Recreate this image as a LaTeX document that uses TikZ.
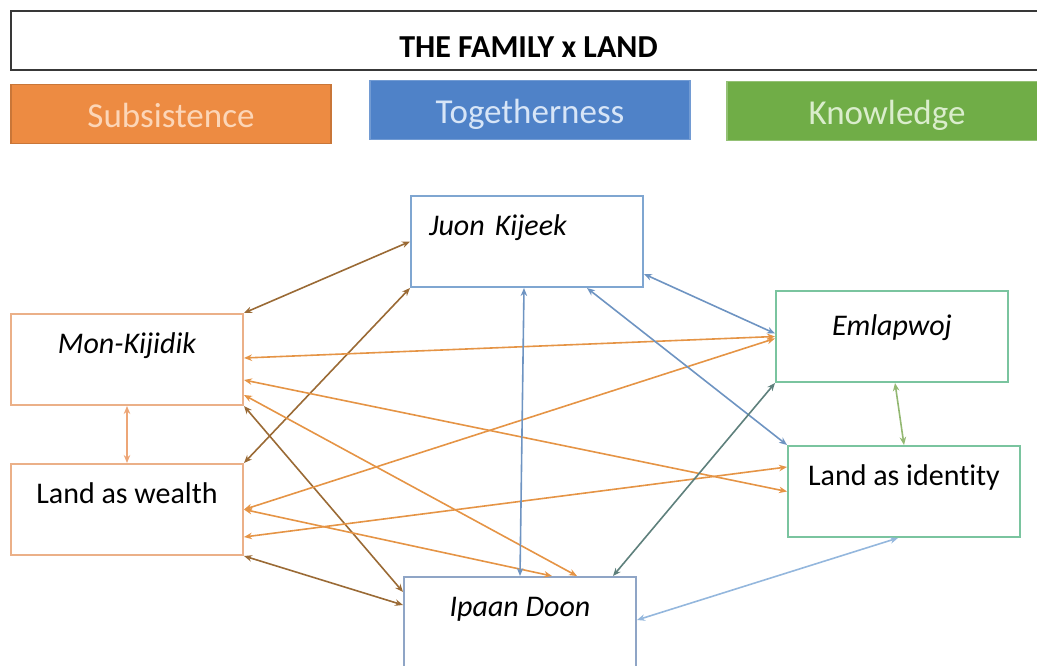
\documentclass[tikz,border=0pt]{standalone}
\usepackage{fontspec}
\setmainfont[Ligatures=NoCommon]{Carlito}
\usetikzlibrary{arrows.meta, calc}

\definecolor{subsfill}{HTML}{ED8B42}
\definecolor{substext}{HTML}{FCD6B8}
\definecolor{togfill}{HTML}{4F82C8}
\definecolor{togtext}{HTML}{D7E5F7}
\definecolor{knowfill}{HTML}{70AD47}
\definecolor{knowtext}{HTML}{DAEDCC}
\definecolor{juonline}{HTML}{7FA6D1}
\definecolor{monline}{HTML}{EBB088}
\definecolor{emlaline}{HTML}{7AC49F}
\definecolor{ipaanline}{HTML}{8FA5C6}
\definecolor{brownlink}{HTML}{9A6A35}
\definecolor{orangelink}{HTML}{E59445}
\definecolor{bluelink}{HTML}{6E94C2}
\definecolor{teallink}{HTML}{5E807C}
\definecolor{greenlink}{HTML}{93B872}
\definecolor{paleblue}{HTML}{94B7DD}
\definecolor{paleorange}{HTML}{EDA677}

\begin{document}
\begin{tikzpicture}[x=1pt, y=-1pt,
	>={Stealth[length=8pt,width=6.5pt]},
	catbox/.style={draw, line width=1.5pt, minimum width=320pt, minimum height=59pt,
		text height=28pt, text depth=0pt, font=\fontsize{35}{40}\selectfont},
	itembox/.style={draw, line width=2pt, anchor=north west, minimum width=232pt,
		inner xsep=0pt, inner ysep=0pt, text height=39pt, text depth=52pt,
		font=\fontsize{30}{36}\selectfont},
	link/.style={<->, line width=1.6pt}]
	\useasboundingbox (0,0) rectangle (1037,666);

	% heading and the three themes
	\node [draw=black!78, line width=2pt, anchor=north west, minimum width=1035pt,
		minimum height=59pt, text height=35pt, text depth=0pt,
		font=\fontsize{32}{38}\selectfont\bfseries]
		(title) at (10,10) {THE FAMILY x LAND};
	\node [catbox, fill=subsfill, draw=subsfill!85!black, text=substext] (subs) at (171,114) {Subsistence};
	\node [catbox, fill=togfill, draw=togfill!80!white, text=togtext] (tog) at (530,110) {Togetherness};
	\node [catbox, fill=knowfill, draw=knowfill!75!white, text=knowtext] (know) at (887,111) {Knowledge};

	% the six boxes
	\node [itembox, draw=juonline, align=left, text width=196pt, inner xsep=18pt]
		(juon) at (410,195) {\itshape Juon Kijeek};
	\node [itembox, draw=monline] (mon) at (10,313) {\itshape Mon-Kijidik};
	\node [itembox, draw=monline] (wealth) at (10,463) {Land as wealth};
	\node [itembox, draw=emlaline, text height=44pt, text depth=47pt] (emla) at (775,290) {\itshape Emlapwoj};
	\node [itembox, draw=emlaline] (ident) at (787,445) {Land as identity};
	\node [itembox, draw=ipaanline] (ipaan) at (403,576) {\itshape Ipaan Doon};

	% links
	\draw [link, brownlink] (mon.north east) -- (juon.west);
	\draw [link, brownlink] (wealth.north east) -- (juon.south west);
	\draw [link, orangelink] ([yshift=-45pt]mon.north east) -- (emla.west);
	\draw [link, orangelink] ([yshift=-67pt]mon.north east) -- (ident.west);
	\draw [link, orangelink] ([yshift=-82pt]mon.north east) -- ([xshift=174pt]ipaan.north west);
	\draw [link, brownlink] (mon.south east) -- ([yshift=-16pt]ipaan.north west);
	\draw [link, orangelink] (wealth.east) -- ([yshift=-2pt]emla.west);
	\draw [link, orangelink] (wealth.east) -- ([xshift=149pt]ipaan.north west);
	\draw [link, orangelink] ([yshift=-74pt]wealth.north east) -- ([yshift=-22pt]ident.north west);
	\draw [link, brownlink] (wealth.south east) -- ([yshift=-29pt]ipaan.north west);
	\draw [link, bluelink] ([xshift=114pt]juon.south west) -- (ipaan.north);
	\draw [link, bluelink] ([xshift=177pt]juon.south west) -- (ident.north west);
	\draw [link, bluelink] ([yshift=14pt]juon.south east) -- ([yshift=3pt]emla.west);
	\draw [link, teallink] ([xshift=-24pt]ipaan.north east) -- (emla.south west);
	\draw [link, greenlink] ([xshift=120pt]emla.south west) -- (ident.north);
	\draw [link, paleblue] ([xshift=111pt]ident.south west) -- ([yshift=-44pt]ipaan.north east);
	\draw [link, paleorange] (mon.south) -- (wealth.north);
\end{tikzpicture}
\end{document}
